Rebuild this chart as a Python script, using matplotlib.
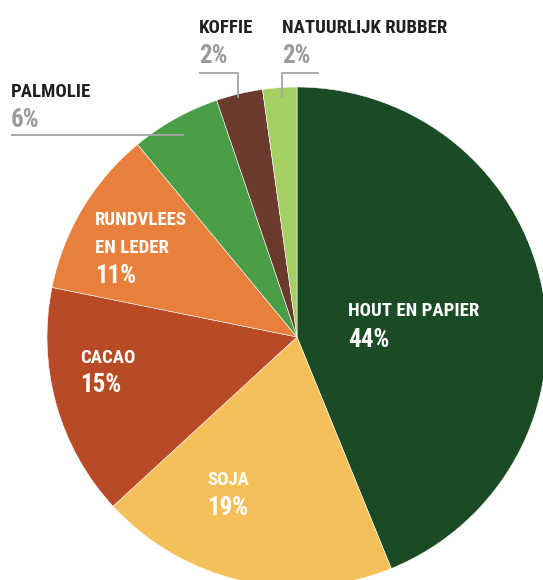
import matplotlib
matplotlib.use("Agg")
from matplotlib import pyplot as plt

# share of imported deforestation per commodity
categories = ["HOUT EN PAPIER", "SOJA", "CACAO", "RUNDVLEES\nEN LEDER", "PALMOLIE", "KOFFIE", "NATUURLIJK RUBBER"]
# slice sizes as drawn in the original graphic
shares = [43.8, 19.3, 15.0, 10.8, 5.8, 3.0, 2.2]
# percentages as printed on the labels
pct_labels = ["44%", "19%", "15%", "11%", "6%", "2%", "2%"]
colors = ["#1b4b24", "#f5c059", "#b94a26", "#e87f3b", "#4a9e47", "#6a3a2e", "#a4cf62"]

W, H = 543, 580
FONT = ["Roboto Condensed", "DejaVu Sans"]
DARK = "#231f20"
GREY = "#9b9b9b"


def py(y):
    # pixel row (from top) -> data y
    return H - y


fig = plt.figure(figsize=(W / 100, H / 100), dpi=100)
ax = fig.add_axes([0, 0, 1, 1])

ax.pie(shares, colors=colors, startangle=90, counterclock=False,
       center=(297, py(337)), radius=250,
       wedgeprops=dict(edgecolor="white", linewidth=0.4))
ax.set_xlim(0, W)
ax.set_ylim(0, H)
ax.set_aspect("equal")
ax.axis("off")

lab = dict(family=FONT, weight="bold", stretch="condensed", fontsize=13.5, va="baseline", ha="left")
pct = dict(family=FONT, weight="bold", stretch="condensed", fontsize=18, va="baseline", ha="left")

# labels inside the pie (white)
inside = {
    0: (348, [316], 347),
    1: (207, [485], 515),
    2: (80, [363], 392),
    3: (95, [225, 253], 283),
}
for i, (x, ys, yp) in inside.items():
    for txt, yl in zip(categories[i].split("\n"), ys):
        ax.text(x, py(yl), txt, color="white", **lab)
    ax.text(x, py(yp), pct_labels[i], color="white", **pct)

# labels outside with leader lines
outside = {
    4: (11, 97, 127),
    5: (199, 33, 63),
    6: (282, 33, 63),
}
for i, (x, yl, yp) in outside.items():
    ax.text(x, py(yl), categories[i], color=DARK, **lab)
    ax.text(x, py(yp), pct_labels[i], color=GREY, **pct)

line = dict(color="#a5a5a5", lw=1.3, solid_capstyle="butt")
ax.plot([11, 184], [py(135), py(135)], **line)
ax.plot([199, 238, 238], [py(73), py(73), py(98)], **line)
ax.plot([319, 282, 282], [py(73), py(73), py(98)], **line)

plt.savefig("out.png", dpi=100)
